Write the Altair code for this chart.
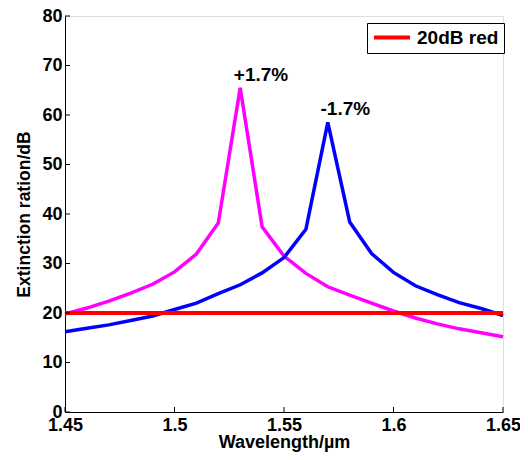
import altair as alt
import pandas as pd

wavelength = [1.45, 1.46, 1.47, 1.48, 1.49, 1.50, 1.51, 1.52, 1.53, 1.54, 1.55,
              1.56, 1.57, 1.58, 1.59, 1.60, 1.61, 1.62, 1.63, 1.64, 1.65]
plus_series = [19.8, 21.0, 22.4, 24.0, 25.8, 28.3, 31.9, 38.2, 65.5, 37.4, 31.5,
               28.0, 25.3, 23.6, 22.0, 20.4, 19.0, 17.8, 16.8, 16.0, 15.2]
minus_series = [16.2, 16.9, 17.6, 18.5, 19.4, 20.7, 22.0, 23.9, 25.7, 28.1, 31.2,
                36.9, 58.5, 38.4, 32.0, 28.2, 25.5, 23.7, 22.1, 20.9, 19.5]
ref_x = [1.45, 1.65]
ref_y = [20, 20]
ref_name = "20dB red"
ann_text = ["+1.7%", "-1.7%"]
ann_x = [1.5395, 1.578]
ann_y = [65.8, 59.0]
x_ticks = [1.45, 1.5, 1.55, 1.6, 1.65]
y_ticks = [0, 10, 20, 30, 40, 50, 60, 70, 80]

FONT = "Liberation Sans"
W, H = 438, 396

df = pd.DataFrame({"w": wavelength, "plus": plus_series, "minus": minus_series})
ref = pd.DataFrame({"w": ref_x, "v": ref_y, "name": [ref_name] * 2})
ann = pd.DataFrame({"t": ann_text, "w": ann_x, "v": ann_y})
xt = pd.DataFrame({"w": x_ticks})
yt = pd.DataFrame({"v": y_ticks})

xs = alt.Scale(domain=[1.45, 1.65], nice=False, zero=False)
ys = alt.Scale(domain=[0, 80], nice=False)

xax = alt.Axis(values=x_ticks, format=".3~f", title="Wavelength/µm", grid=False,
               ticks=False, labelFont=FONT, labelFontSize=18, labelFontWeight="bold",
               labelColor="black", labelPadding=4, titleFont=FONT, titleFontSize=18,
               titleFontWeight="bold", titleColor="black", titleBaseline="alphabetic",
               titleY=35.5, domainColor="black", labelFlush=False)
yax = alt.Axis(values=y_ticks, title="Extinction ration/dB", grid=False, ticks=False,
               labelFont=FONT, labelFontSize=18, labelFontWeight="bold",
               labelColor="black", labelPadding=3, titleFont=FONT, titleFontSize=17.5,
               titleFontWeight="bold", titleColor="black", titlePadding=8,
               domainColor="black")

base = alt.Chart(df)
magenta = base.mark_line(color="#FF00FF", strokeWidth=3.5).encode(
    x=alt.X("w:Q", scale=xs, axis=xax), y=alt.Y("plus:Q", scale=ys, axis=yax))
blue = base.mark_line(color="#0000FF", strokeWidth=3.5).encode(
    x=alt.X("w:Q", scale=xs), y=alt.Y("minus:Q", scale=ys))
red = alt.Chart(ref).mark_line(strokeWidth=4).encode(
    x=alt.X("w:Q", scale=xs), y=alt.Y("v:Q", scale=ys),
    color=alt.Color("name:N", scale=alt.Scale(domain=[ref_name], range=["#FF0000"]),
                    legend=alt.Legend(title=None, orient="none", legendX=302, legendY=7,
                                      symbolType="stroke", symbolSize=1296,
                                      symbolStrokeWidth=4, clipHeight=19,
                                      labelFont=FONT,
                                      labelFontSize=19, labelFontWeight="bold",
                                      labelColor="black", strokeColor="black",
                                      fillColor="white", padding=5, labelOffset=5,
                                      labelLimit=300)))
texts = alt.Chart(ann).mark_text(font=FONT, fontSize=19, fontWeight="bold",
                                 baseline="bottom", color="black", dy=-1).encode(
    x=alt.X("w:Q", scale=xs), y=alt.Y("v:Q", scale=ys), text="t:N")
xtick = alt.Chart(xt).mark_rule(color="black", strokeWidth=1).encode(
    x=alt.X("w:Q", scale=xs), y=alt.value(H), y2=alt.value(H - 5))
ytick = alt.Chart(yt).mark_rule(color="black", strokeWidth=1).encode(
    y=alt.Y("v:Q", scale=ys), x=alt.value(0), x2=alt.value(5))

chart = alt.layer(magenta, blue, red, texts, xtick, ytick).properties(
    width=W, height=H,
    padding={"left": 57, "top": 8, "right": 17, "bottom": 40},
    autosize=alt.AutoSizeParams(type="none"),
).configure_view(stroke=None).configure(background="white")

chart.save("out.html", embed_options={"renderer": "svg", "actions": False})
